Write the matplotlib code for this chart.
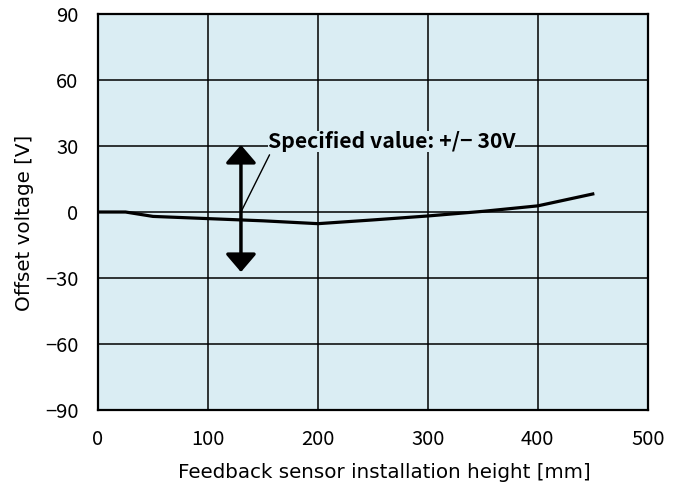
import matplotlib
matplotlib.use("Agg")
import matplotlib.pyplot as plt

plt.rcParams['font.family'] = ['Noto Sans CJK JP', 'DejaVu Sans']

# sensor height [mm] vs offset voltage [V]
height = [0, 25, 50, 100, 150, 200, 250, 300, 350, 400, 450]
offset = [0, 0, -2, -3, -4, -5.3, -3.6, -1.8, 0.3, 2.8, 8.2]

spec_x = 130
spec_lo = -27.3
spec_hi = 30.5
spec_text = "Specified value: +/\u2212 30V"

xticks = [0, 100, 200, 300, 400, 500]
yticks = [-90, -60, -30, 0, 30, 60, 90]

bg = '#daedf3'

fig = plt.figure(figsize=(6.84, 4.88), dpi=100)
ax = fig.add_axes([0.1433, 0.1598, 0.8037, 0.8115])
ax.set_facecolor(bg)

ax.plot(height, offset, color='black', lw=2.3, zorder=3)

# double arrow for the +/- spec
ax.annotate("", xy=(spec_x, spec_hi), xytext=(spec_x, spec_lo),
            arrowprops=dict(arrowstyle='<|-|>,head_width=0.47,head_length=0.55',
                            color='black', lw=2.5, mutation_scale=20,
                            shrinkA=0, shrinkB=0), zorder=4)
# leader line + label
ax.annotate("", xy=(spec_x, 0), xytext=(156, 26),
            arrowprops=dict(arrowstyle='-', color='black', lw=1,
                            shrinkA=0, shrinkB=0), zorder=5)
ax.text(154.5, 29, spec_text, fontsize=15.3, fontweight='bold',
        va='baseline', ha='left', zorder=5,
        bbox=dict(facecolor=bg, edgecolor='none', pad=0))

ax.set_xlim(0, 500)
ax.set_ylim(-90, 90)
ax.set_xticks(xticks)
ax.set_yticks(yticks)
ax.set_yticklabels([str(t).replace('-', '\u2212') for t in yticks])
ax.grid(True, color='black', lw=1.1)
ax.set_axisbelow(True)
ax.tick_params(length=0, labelsize=14.5)
ax.tick_params(axis='y', pad=14)
ax.tick_params(axis='x', pad=14)
for s in ax.spines.values():
    s.set_linewidth(1.6)

ax.set_xlabel("Feedback sensor installation height [mm]", fontsize=14.3,
              family='DejaVu Sans')
ax.set_ylabel("Offset voltage [V]", fontsize=14.3, family='DejaVu Sans')
ax.xaxis.set_label_coords(0.52, -0.157)
ax.yaxis.set_label_coords(-0.1345, 0.472)
ax.xaxis.label.set_va('center')
ax.yaxis.label.set_va('center')

fig.savefig("out.png", dpi=100)
